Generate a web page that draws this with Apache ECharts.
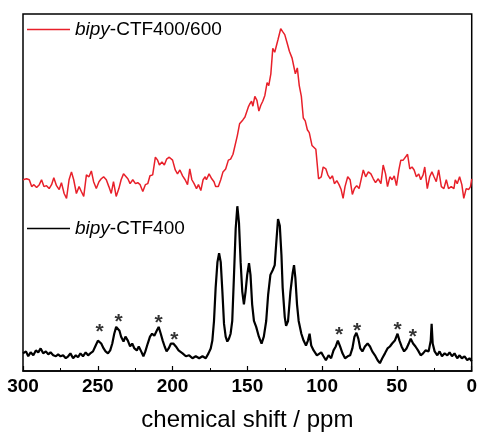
<!DOCTYPE html>
<html>
<head>
<meta charset="utf-8">
<script src="https://cdn.jsdelivr.net/npm/echarts@6/dist/echarts.min.js"></script>
<style>
  html, body { margin: 0; padding: 0; background: #fff; }
  #chart { width: 480px; height: 437px; }
</style>
</head>
<body>
<div id="chart"></div>
<script>
// chemical shift (ppm) and intensity
var redShift = [300,297.6,295.8,294.2,292.7,290.9,289.1,287.6,286,284.3,282.5,280.9,279.4,277.6,275.8,274.3,272.5,270.9,269.2,267.6,266.1,264.3,262.5,261,259.4,257.6,255.9,254.3,252.8,251,249.2,247.7,246.1,244.3,242.6,241,239.5,237.7,235.9,234.4,232.8,231.5,229.9,228.4,226.6,224.8,223.3,221.7,219.9,218.2,216.6,215.1,213.3,211.5,210,208.8,207.1,205.5,204,202.2,
  200,198.2,196.7,195.1,193.3,191.6,190,188.5,187.1,185.6,184,182.7,181.1,179.6,178.2,177.4,175.6,173.8,172.3,171.2,169.4,167.8,166.3,164.5,162.7,161.2,159.6,158.3,156.7,155.2,153.9,153,151.6,150.7,149.4,148.5,147.2,146.3,145,143.6,142.3,141,139.7,138.3,136.8,135.7,134.3,133,131.7,130.8,129.5,127.7,126.4,125,123.5,121.9,120.1,119,117.9,116.6,115.3,113.9,112.6,111.3,109.9,108.6,106.8,105.5,104.2,
  102.4,100.6,99.3,97.5,96.2,94.6,93.1,91.8,90.2,88.7,87.3,86,84.7,82.9,81.3,79.8,78.4,76.9,75.3,74,72.5,70.9,69.1,67.4,65.8,64.3,62.5,60.7,59.2,57.6,56.3,54.7,53.2,51.8,50.3,48.7,47.4,45.8,44.7,42.9,41.4,39.9,38.5,37,35.4,34.1,32.5,31.4,29.7,28.1,26.6,25.2,23.7,22.1,20.3,18.6,17,15.5,13.7,11.9,11,9.7,8.1,6.6,5.3,3.7,2.1,0.8,0];
var redIntensity = [195,196,195,188,190,187,190,195,188,189,186,190,197,189,185,192,181,176,195,203,195,181,188,183,178,200,198,204,193,186,193,196,198,195,188,181,193,178,186,195,201,203,196,191,195,191,192,190,183,190,191,199,200,218,215,210,213,210,216,218,
  215,205,201,205,199,195,190,206,195,191,186,190,184,195,198,195,201,196,193,188,188,195,203,206,215,216,221,219,240,252,251,256,259,260,269,272,275,270,280,276,265,271,275,281,294,291,303,329,325,326,338,349,346,343,335,326,319,311,303,309,291,280,258,255,246,243,230,228,226,
  196,198,208,206,200,196,199,191,194,190,185,176,188,198,195,180,186,189,186,188,205,198,203,201,196,192,196,191,210,201,188,198,195,199,189,205,215,215,213,221,206,208,205,198,201,195,200,208,186,198,203,198,193,205,188,186,195,186,188,186,195,191,198,190,176,186,185,188,196];

var blackShift = [300,298,296.5,294.9,293.1,291.4,289.8,288.2,286.5,284.7,283.1,281.6,279.8,278,276.5,274.9,273.2,271.4,269.8,268.3,266.5,264.7,263.2,261.6,259.9,258.1,256.5,255,253.2,251.4,249.9,248.8,247.7,246.1,244.8,243.2,241.7,240.3,239,237.7,236.6,235.5,234.4,232.8,231.5,229.9,228.4,227,225.5,223.9,222.6,221,219.5,218.2,216.6,215.1,213.7,212.2,210.6,209.3,207.9,206.6,205.3,204,202.6,201.1,199.5,197.8,196,
  195.5,193.3,191.1,188.9,186.7,184.5,182.2,180,177.8,176,174.5,173.4,172.3,171.2,170,168.9,167.8,166.7,165.6,164.5,163.4,162.3,161.2,160.1,159,157.8,156.7,155.6,154.5,153.4,152.3,151.2,150.1,148.9,147.9,146.8,145.6,144.1,142.3,140.5,139,137.4,136.1,134.6,133,131.7,130.8,129.5,128.3,127.2,126.4,125,124.1,122.8,121.2,119.7,118.8,117.9,116.8,115.7,113.9,112.4,110.8,109.5,108.4,107.3,105.7,103.5,
  102.4,100.6,99.1,97.5,95.7,94,92.4,90.9,89.5,88,86.4,84.7,82.9,81.3,79.8,78.4,77.1,75.8,74.5,73.1,71.4,69.6,68,66.5,64.7,62.9,61.4,59.8,58,56.3,54.7,53.2,51.4,49.6,48.3,46.9,45.2,43.6,42.1,40.8,39.2,37.6,35.9,34.1,32.5,30.9,28.8,27.4,26.8,26.1,24.8,23,21.5,19.9,18.1,16.3,14.8,13.2,11.5,9.7,8.1,6.6,4.8,3,1.5,0];
var blackIntensity = [18,20,15,19,16,21,19,23,18,20,17,19,16,15,17,15,16,13,15,18,13,16,14,18,15,19,16,18,20,26,31,33,28,23,20,18,21,28,38,45,47,41,35,30,35,31,25,28,23,21,25,20,15,20,28,35,38,36,41,45,38,31,25,20,23,28,28,25,21,
  21,18,15,16,13,15,13,15,13,18,23,31,51,85,111,120,111,81,48,35,30,33,38,51,95,145,168,151,111,81,68,81,98,110,98,68,51,45,35,28,35,51,78,98,103,108,128,155,148,118,85,55,46,51,81,100,108,95,68,51,38,31,26,31,38,26,21,16,
  16,19,15,11,16,13,21,25,31,25,18,13,15,16,23,35,39,33,23,20,25,28,25,20,16,11,8,13,18,23,25,28,31,38,31,25,20,23,28,33,28,25,21,16,18,21,20,31,48,28,20,16,20,15,18,16,19,15,18,13,16,13,15,11,13,10];

// spinning sidebands marked with *
var starShift = [248.8, 236.1, 209.3, 198.9, 88.6, 76.7, 49.6, 39.4];
var starHeight = [44.7, 55, 54, 37, 42, 46, 47, 40];

var xTicks = [300, 250, 200, 150, 100, 50, 0];

var FONT = '"Liberation Sans", Arial, sans-serif';

function pairs(xs, ys) {
  var out = [];
  for (var i = 0; i < xs.length; i++) out.push([xs[i], ys[i]]);
  return out;
}

function legendFor(name, rest, top) {
  return {
    data: [name],
    left: 27, top: top, padding: 0,
    icon: 'rect',
    itemWidth: 43, itemHeight: 1.5,
    formatter: function () { return '{i|bipy}' + rest; },
    textStyle: {
      fontFamily: FONT, fontSize: 19, color: '#000',
      rich: { i: { fontStyle: 'italic', fontFamily: FONT, fontSize: 19, color: '#000' } }
    }
  };
}

var chart = echarts.init(document.getElementById('chart'), null, { renderer: 'canvas' });

var option = {
  animation: false,
  backgroundColor: '#fff',
  grid: {
    left: 23, right: 5, top: 14, bottom: 59,
    show: true, borderColor: '#000', borderWidth: 1.5, backgroundColor: 'transparent'
  },
  legend: [
    legendFor('bipy-CTF400/600', '-CTF400/600', 20),
    legendFor('bipy-CTF400', '-CTF400', 219)
  ],
  xAxis: {
    type: 'value',
    inverse: true,
    min: 0, max: 300, interval: 50,
    name: 'chemical shift / ppm',
    nameLocation: 'middle',
    nameGap: 37,
    nameTextStyle: { fontFamily: FONT, fontSize: 24, color: '#000' },
    axisLine: { show: true, lineStyle: { color: '#000', width: 1.5 } },
    axisTick: { show: true, inside: true, length: 5, lineStyle: { color: '#000', width: 1.2 } },
    minorTick: { show: true, splitNumber: 2, length: 3, lineStyle: { color: '#000', width: 1 } },
    splitLine: { show: false },
    axisLabel: {
      fontFamily: FONT, fontSize: 19, fontWeight: 'bold', color: '#000', margin: 6,
      formatter: function (v) { return xTicks.indexOf(v) >= 0 ? String(v) : ''; }
    }
  },
  yAxis: {
    type: 'value', min: 0, max: 364, show: false
  },
  series: [{
    name: 'bipy-CTF400/600',
    type: 'line',
    data: pairs(redShift, redIntensity),
    showSymbol: false, symbol: 'none',
    color: '#e8202a',
    lineStyle: { color: '#e8202a', width: 1.5 }
  }, {
    name: 'bipy-CTF400',
    type: 'line',
    data: pairs(blackShift, blackIntensity),
    showSymbol: false, symbol: 'none',
    color: '#000',
    lineStyle: { color: '#000', width: 2.2 }
  }, {
    name: 'stars',
    type: 'scatter',
    data: pairs(starShift, starHeight),
    symbolSize: 0,
    silent: true,
    label: {
      show: true, position: 'inside', offset: [0, 5],
      formatter: '*',
      fontFamily: FONT, fontSize: 21, fontWeight: 'bold', color: '#000'
    }
  }]
};

chart.setOption(option);
</script>
</body>
</html>
